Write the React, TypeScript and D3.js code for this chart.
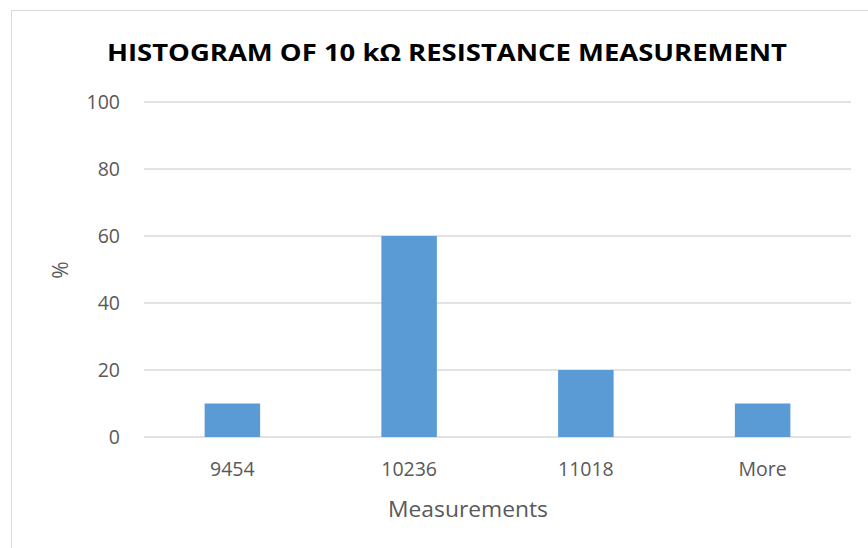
import { scaleLinear, scaleBand } from "d3";

const categories = ["9454", "10236", "11018", "More"];
const percents = [10, 60, 20, 10];
const yTicks = [0, 20, 40, 60, 80, 100];

const width = 868;
const height = 548;
const plot = { left: 144, right: 851, top: 102, bottom: 437 };
const font = '"Open Sans", "Noto Sans", sans-serif';

export default function App() {
  const x = scaleBand<string>()
    .domain(categories)
    .range([plot.left, plot.right])
    .paddingInner(0.686)
    .paddingOuter(0.343);

  const y = scaleLinear().domain([0, 100]).range([plot.bottom, plot.top]);

  return (
    <svg
      width={width}
      height={height}
      style={{ position: "absolute", left: 0, top: 0 }}
      fontFamily={font}
    >
      <rect x={0} y={0} width={width} height={height} fill="white" />
      <rect
        x={11.5}
        y={10.5}
        width={width}
        height={height}
        fill="none"
        stroke="#d9d9d9"
        strokeWidth={1}
      />
      <text
        x={447}
        y={61}
        textAnchor="middle"
        fontSize={24}
        fontWeight={700}
        fill="#000"
        textLength={680}
        lengthAdjust="spacingAndGlyphs"
      >
        HISTOGRAM OF 10 kΩ RESISTANCE MEASUREMENT
      </text>
      {yTicks.map((t) => (
        <g key={t}>
          <line
            x1={plot.left}
            x2={plot.right}
            y1={y(t)}
            y2={y(t)}
            stroke="#d9d9d9"
            strokeWidth={1.5}
          />
          <text
            x={120}
            y={y(t)}
            dy="0.35em"
            textAnchor="end"
            fontSize={19.5}
            fill="#595959"
          >
            {t}
          </text>
        </g>
      ))}
      {categories.map((c, i) => (
        <g key={c}>
          <rect
            x={x(c)}
            y={y(percents[i])}
            width={x.bandwidth()}
            height={y(0) - y(percents[i])}
            fill="#5b9bd5"
          />
          <text
            x={(x(c) ?? 0) + x.bandwidth() / 2}
            y={476}
            textAnchor="middle"
            fontSize={19.5}
            fill="#595959"
          >
            {c}
          </text>
        </g>
      ))}
      <text
        x={468}
        y={517}
        textAnchor="middle"
        fontSize={22}
        fill="#595959"
        textLength={160}
        lengthAdjust="spacingAndGlyphs"
      >
        Measurements
      </text>
      <text
        transform={`translate(68, 270) rotate(-90)`}
        textAnchor="middle"
        fontSize={21}
        fill="#595959"
      >
        %
      </text>
    </svg>
  );
}
